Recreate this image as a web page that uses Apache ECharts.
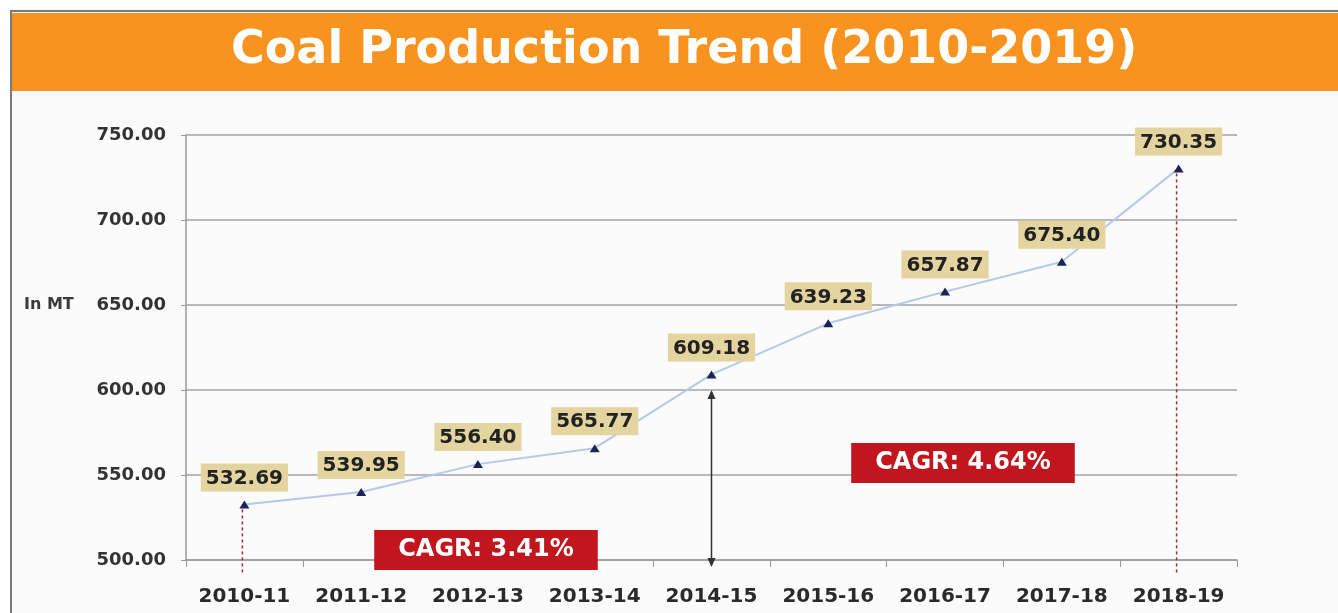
<!DOCTYPE html>
<html lang="en">
<head>
	<meta charset="utf-8"/>
	<title>Coal Production Trend</title>
	<script type="text/javascript" src="https://cdn.jsdelivr.net/npm/echarts@6/dist/echarts.min.js"></script>
	<style>
		body { margin: 0; background: #fff; }
		#frame { position: absolute; left: 10px; top: 10px; width: 1340px; height: 620px;
			border-left: 2px solid #7a7a7a; border-top: 2px solid #7a7a7a; background: #fbfbfc; }
		#band { position: absolute; left: 12px; top: 13px; width: 1330px; height: 78px; background: #f7931e; }
		#chart { position: absolute; left: 0; top: 0; width: 1338px; height: 613px; }
	</style>
</head>
<body>
<div id="frame"></div>
<div id="band"></div>
<div id="chart"></div>

<script type="text/javascript">
	// data
	var years = ['2010-11', '2011-12', '2012-13', '2013-14', '2014-15', '2015-16', '2016-17', '2017-18', '2018-19'];
	var production = [532.69, 539.95, 556.40, 565.77, 609.18, 639.23, 657.87, 675.40, 730.35];
	var yMin = 500, yMax = 750, yStep = 50;
	var cagrTexts = ['CAGR: 3.41%', 'CAGR: 4.64%'];
	var dropIdx = [0, 8];          // dotted guides from point down to the axis
	var splitIdx = 4;              // double arrow between periods
	var splitRange = [600, 500];

	var guides = [];
	for (var i = 0; i < dropIdx.length; i++) {
		guides.push([dropIdx[i], production[dropIdx[i]], yMin, 0]);
	}
	guides.push([splitIdx, splitRange[0], splitRange[1], 1]);

	var chart = echarts.init(document.getElementById('chart'));

	var option = {
		backgroundColor: 'transparent',
		animation: false,
		title: {
			text: 'Coal Production Trend (2010-2019)',
			left: 231,
			top: 28,
			padding: 0,
			textStyle: {
				color: '#ffffff',
				fontFamily: 'DejaVu Sans',
				fontWeight: 'bold',
				fontSize: 46
			}
		},
		grid: {
			left: 186,
			right: 101,
			top: 135,
			bottom: 53
		},
		xAxis: {
			type: 'category',
			data: years,
			boundaryGap: true,
			axisLine: { lineStyle: { color: '#9a9a9a', width: 1.5 } },
			axisTick: { show: true, interval: 0, length: 7, lineStyle: { color: '#9a9a9a' } },
			axisLabel: {
				interval: 0,
				margin: 27,
				color: '#2a2a2a',
				fontFamily: 'DejaVu Sans',
				fontWeight: 'bold',
				fontSize: 20
			}
		},
		yAxis: {
			type: 'value',
			min: yMin,
			max: yMax,
			interval: yStep,
			axisLine: { show: true, lineStyle: { color: '#9a9a9a', width: 1.5 } },
			axisTick: { show: true, length: 5, lineStyle: { color: '#9a9a9a' } },
			splitLine: { lineStyle: { color: '#a3a3a3', width: 1.5 } },
			axisLabel: {
				margin: 20,
				color: '#333',
				fontFamily: 'DejaVu Sans',
				fontWeight: 'bold',
				fontSize: 18,
				formatter: function (v) { return v.toFixed(2); }
			}
		},
		graphic: [
			{
				type: 'text', left: 24, top: 297,
				style: { text: 'In MT', fill: '#3a3a3a', font: 'bold 16px "DejaVu Sans"' }
			},
			{
				type: 'text', x: 486, y: 550, z: 10,
				style: {
					text: cagrTexts[0], fill: '#fff', font: 'bold 24px "DejaVu Sans"',
					align: 'center', verticalAlign: 'middle',
					backgroundColor: '#c1161e', padding: [8, 24]
				}
			},
			{
				type: 'text', x: 963, y: 463, z: 10,
				style: {
					text: cagrTexts[1], fill: '#fff', font: 'bold 24px "DejaVu Sans"',
					align: 'center', verticalAlign: 'middle',
					backgroundColor: '#c1161e', padding: [8, 24]
				}
			}
		],
		series: [
			{
				name: 'Production',
				type: 'line',
				data: production,
				symbol: 'triangle',
				symbolSize: [10, 8],
				itemStyle: { color: '#1c2456' },
				lineStyle: { color: '#b3c9e8', width: 2 },
				z: 5,
				label: {
					show: true,
					position: 'top',
					distance: 9,
					color: '#222',
					fontFamily: 'DejaVu Sans',
					fontWeight: 'bold',
					fontSize: 20,
					backgroundColor: '#e3d4a0',
					padding: [5, 5, 3, 5],
					formatter: function (p) { return p.value.toFixed(2); }
				}
			},
			{
				name: 'guides',
				type: 'custom',
				z: 3,
				data: guides,
				renderItem: function (params, api) {
					var a = api.coord([api.value(0), api.value(1)]);
					var b = api.coord([api.value(0), api.value(2)]);
					if (api.value(3) === 0) {
						return {
							type: 'line',
							shape: { x1: a[0] - 2, y1: a[1] + 5, x2: a[0] - 2, y2: b[1] + 14 },
							style: { stroke: '#a3283a', lineWidth: 1.5, lineDash: [3, 3] }
						};
					}
					var x = a[0], y1 = a[1], y2 = b[1] + 7;
					return {
						type: 'group',
						children: [
							{ type: 'line', shape: { x1: x, y1: y1 + 2, x2: x, y2: y2 - 2 },
								style: { stroke: '#333', lineWidth: 1.5 } },
							{ type: 'polygon', shape: { points: [[x, y1], [x - 4, y1 + 9], [x + 4, y1 + 9]] },
								style: { fill: '#333' } },
							{ type: 'polygon', shape: { points: [[x, y2], [x - 4, y2 - 9], [x + 4, y2 - 9]] },
								style: { fill: '#333' } }
						]
					};
				}
			}
		]
	};
	chart.setOption(option);
</script>
</body>
</html>
